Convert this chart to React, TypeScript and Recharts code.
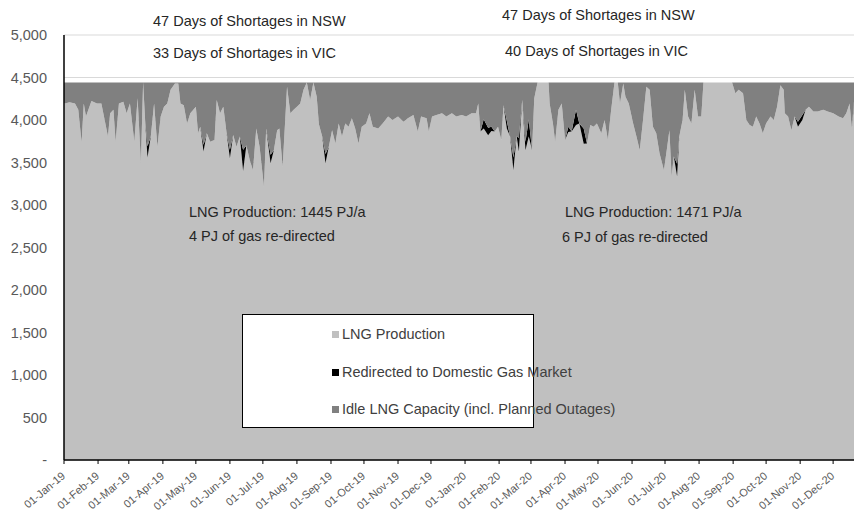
import React from 'react';
import { AreaChart, Area, XAxis, YAxis, CartesianGrid, Legend } from 'recharts';

const FONT = 'Arial, "Liberation Sans", sans-serif';

// total LNG export capacity (TJ/day), the flat top of the stack
const CAPACITY = 4440;

// day index from 01-Jan-19
const DAYS = [
  0, 1, 5, 10, 13, 16, 18, 20, 25, 30,
  34, 37, 40, 42, 45, 47, 50, 54, 57, 60,
  64, 67, 70, 72, 74, 76, 79, 82, 85, 88,
  91, 94, 97, 101, 104, 106, 109, 112, 115, 120,
  122, 124, 127, 130, 133, 137, 139, 142, 145, 148,
  151, 154, 157, 160, 163, 166, 169, 172, 175, 178,
  182, 184, 188, 191, 194, 196, 199, 203, 206, 209,
  212, 215, 218, 221, 224, 227, 230, 232, 235, 238,
  241, 244, 247, 250, 253, 256, 259, 262, 265, 268,
  271, 275, 278, 281, 286, 290, 295, 299, 304, 309,
  313, 318, 322, 325, 330, 332, 335, 339, 344, 348,
  353, 357, 362, 366, 371, 375, 377, 379, 382, 386,
  389, 392, 395, 398, 400, 403, 406, 409, 412, 414,
  417, 420, 423, 426, 428, 431, 439, 441, 442, 445,
  447, 450, 453, 456, 459, 462, 466, 469, 473, 476,
  479, 482, 485, 489, 492, 495, 498, 501, 504, 506,
  509, 511, 514, 518, 521, 524, 527, 530, 533, 536,
  539, 542, 546, 549, 551, 553, 555, 558, 560, 563,
  565, 568, 571, 574, 577, 580, 582, 608, 611, 614,
  618, 621, 624, 627, 630, 633, 636, 639, 643, 646,
  649, 652, 655, 656, 659, 662, 665, 668, 672, 675,
  678, 682, 686, 691, 695, 700, 705, 709, 712, 715,
  717, 719,
];

// LNG production (TJ/day)
const PRODUCTION = [
  4200, 4195, 4210, 4195, 4120, 3735, 4195, 4040, 4225, 4195,
  4195, 4000, 3805, 4080, 4120, 3745, 4195, 4215, 4080, 4195,
  3745, 4255, 3490, 4440, 3960, 3560, 3805, 4195, 3685, 4040,
  4155, 4195, 4355, 4430, 4430, 4195, 4175, 3960, 4080, 4155,
  3845, 3920, 3630, 3845, 3745, 3765, 4235, 4080, 4155, 3845,
  3550, 3825, 3685, 3805, 3400, 3700, 3530, 3410, 3900, 3685,
  3215, 3900, 3490, 3645, 3880, 3900, 3450, 4390, 4080, 4120,
  4155, 4195, 4355, 4440, 4235, 4440, 4275, 3950, 3805, 3490,
  3685, 3880, 3725, 3960, 3805, 3960, 3920, 4020, 3900, 3725,
  3920, 3960, 4080, 3920, 3900, 3960, 4040, 4000, 4040, 3980,
  4020, 4060, 3865, 4040, 4020, 3865, 4040, 4060, 4080, 4040,
  4080, 4040, 4060, 4040, 4080, 4080, 4195, 3865, 3900, 3820,
  3870, 3865, 3920, 3765, 4175, 3900, 3805, 3410, 3805, 3630,
  4235, 3645, 3805, 3645, 4255, 4440, 4440, 4440, 4195, 3960,
  3745, 4120, 4195, 3765, 3860, 3865, 3940, 3960, 3720, 3725,
  3940, 3920, 3960, 3845, 4000, 3765, 4120, 4440, 4440, 4195,
  4430, 4275, 4195, 3960, 3805, 3645, 4000, 4390, 4355, 3920,
  3845, 3610, 3410, 3685, 3880, 3335, 3570, 3335, 3805, 4000,
  4355, 4040, 3960, 4355, 4040, 4040, 4440, 4440, 4315, 4355,
  4315, 4000, 3940, 3920, 4040, 3960, 3845, 3960, 4040, 4000,
  4155, 4410, 4355, 4080, 4040, 3880, 4040, 3920, 4000, 4120,
  4155, 4100, 4100, 4120, 4100, 4080, 4040, 4020, 4080, 4195,
  3900, 4180,
];

// days with gas redirected to the domestic market, and how much
const REDIRECTED_DAYS = [76, 127, 151, 163, 188, 238, 382, 386, 389, 403, 409, 414, 420, 423, 459, 466, 473, 558, 668, 672, 719];
const REDIRECTED_VALUES = [130, 80, 100, 250, 100, 110, 110, 90, 50, 90, 150, 160, 100, 200, 60, 180, 180, 150, 60, 60, 40];

const MONTH_TICKS = [0, 31, 59, 90, 120, 151, 181, 212, 243, 273, 304, 334, 365, 396, 425, 456, 486, 517, 547, 578, 609, 639, 670, 700];
const MONTH_LABELS = [
  '01-Jan-19', '01-Feb-19', '01-Mar-19', '01-Apr-19', '01-May-19', '01-Jun-19',
  '01-Jul-19', '01-Aug-19', '01-Sep-19', '01-Oct-19', '01-Nov-19', '01-Dec-19',
  '01-Jan-20', '01-Feb-20', '01-Mar-20', '01-Apr-20', '01-May-20', '01-Jun-20',
  '01-Jul-20', '01-Aug-20', '01-Sep-20', '01-Oct-20', '01-Nov-20', '01-Dec-20',
];
const Y_TICKS = [0, 500, 1000, 1500, 2000, 2500, 3000, 3500, 4000, 4500, 5000];

const SERIES_NAMES = ['LNG Production', 'Redirected to Domestic Gas Market', 'Idle LNG Capacity (incl. Planned Outages)'];
const SERIES_COLORS = ['#c0c0c0', '#000000', '#808080'];

const chartData = DAYS.map((day, i) => {
  const k = REDIRECTED_DAYS.indexOf(day);
  const redirected = k >= 0 ? REDIRECTED_VALUES[k] : 0;
  return {
    day,
    production: PRODUCTION[i],
    redirected,
    idle: CAPACITY - PRODUCTION[i] - redirected,
  };
});

const formatY = (v: number) => (v === 0 ? '-' : v.toLocaleString('en-US'));

const MonthTick = (props: any) => {
  const { x, y, payload } = props;
  const label = MONTH_LABELS[MONTH_TICKS.indexOf(payload.value)];
  const ax = x + 2;
  const ay = y + 11;
  return (
    <text x={ax} y={ay} transform={`rotate(-40, ${ax}, ${ay})`} textAnchor="end" fontSize={11} fill="#595959" fontFamily={FONT}>
      {label}
    </text>
  );
};

const renderLegend = () => (
  <div style={{ position: 'relative', width: 292, height: 114, border: '1px solid #000', boxSizing: 'border-box', background: '#fff' }}>
    {SERIES_NAMES.map((name, i) => (
      <div
        key={name}
        style={{ position: 'absolute', left: 89, top: [10, 48, 85][i], display: 'flex', alignItems: 'center', whiteSpace: 'nowrap', fontSize: 14.5, lineHeight: '18px', color: '#404040', fontFamily: FONT }}
      >
        <span style={{ display: 'inline-block', width: 7, height: 7, background: SERIES_COLORS[i], marginRight: 3 }} />
        {name}
      </div>
    ))}
  </div>
);

// annotation texts: [text, left, vertical centre]
const NOTES: [string, number, number][] = [
  ['47 Days of Shortages in NSW', 153, 21],
  ['33 Days of Shortages in VIC', 153, 53],
  ['47 Days of Shortages in NSW', 502, 15],
  ['40 Days of Shortages in VIC', 505, 51],
  ['LNG Production: 1445 PJ/a', 189, 212],
  ['4 PJ of gas re-directed', 189, 236],
  ['LNG Production: 1471 PJ/a', 565, 212],
  ['6 PJ of gas re-directed', 562, 237],
];

export default function App() {
  return (
    <div style={{ position: 'absolute', left: 0, top: 0, width: 854, height: 512, background: '#fff', fontFamily: FONT }}>
      <AreaChart width={854} height={512} data={chartData} margin={{ top: 35, right: 0, bottom: 0, left: 0 }}>
        <CartesianGrid vertical={false} stroke="#d9d9d9" />
        <XAxis
          type="number"
          dataKey="day"
          domain={[0, 719]}
          ticks={MONTH_TICKS}
          interval={0}
          height={52}
          tick={MonthTick}
          tickSize={4}
          tickLine={{ stroke: '#000' }}
          axisLine={{ stroke: '#000', strokeWidth: 1.5 }}
          allowDataOverflow
        />
        <YAxis
          domain={[0, 5000]}
          ticks={Y_TICKS}
          interval={0}
          width={64}
          tickLine={false}
          tickSize={0}
          tickMargin={17}
          tickFormatter={formatY}
          tick={{ fill: '#595959', fontSize: 14.5, fontFamily: FONT }}
          axisLine={{ stroke: '#000', strokeWidth: 1.5 }}
        />
        <Area type="linear" dataKey="production" name={SERIES_NAMES[0]} stackId="1" fill={SERIES_COLORS[0]} fillOpacity={1} stroke="none" isAnimationActive={false} />
        <Area type="linear" dataKey="redirected" name={SERIES_NAMES[1]} stackId="1" fill={SERIES_COLORS[1]} fillOpacity={1} stroke="none" isAnimationActive={false} />
        <Area type="linear" dataKey="idle" name={SERIES_NAMES[2]} stackId="1" fill={SERIES_COLORS[2]} fillOpacity={1} stroke="none" isAnimationActive={false} />
        <Legend
          content={renderLegend}
          layout="vertical"
          verticalAlign="middle"
          align="center"
          wrapperStyle={{ left: 242, top: 314, width: 292, height: 114 }}
        />
      </AreaChart>
      {NOTES.map(([text, left, cy], i) => (
        <div
          key={i}
          style={{ position: 'absolute', left, top: cy - 9, fontSize: 14.5, lineHeight: '18px', color: '#262626', whiteSpace: 'nowrap' }}
        >
          {text}
        </div>
      ))}
    </div>
  );
}
